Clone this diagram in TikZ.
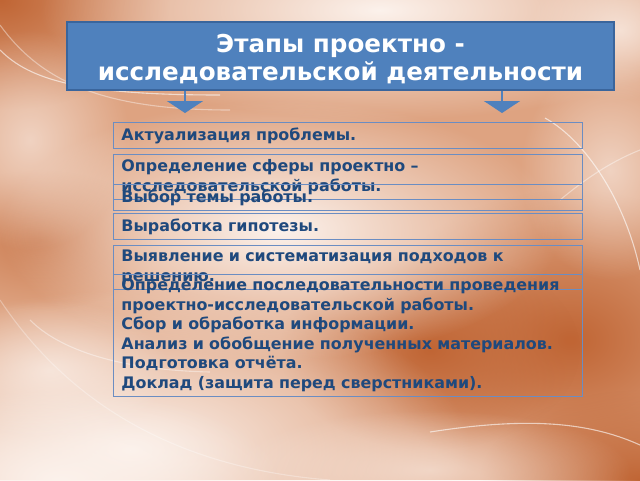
\documentclass[tikz,border=0pt]{standalone}
\usepackage{fontspec}
\setmainfont{DejaVu Sans}
\usetikzlibrary{arrows.meta,fadings}
\definecolor{accent}{HTML}{4F81BD}
\definecolor{accentdark}{HTML}{3A659C}
\definecolor{txtblue}{HTML}{1F497D}
\definecolor{boxline}{HTML}{6B8DC2}
\definecolor{bgmid}{HTML}{DEA381}
\definecolor{bgdark}{HTML}{C06534}
\definecolor{bglight}{HTML}{FCF2EC}
\tikzfading[name=softblob, inner color=transparent!0, outer color=transparent!100]
\tikzset{
  lightblob/.style={fill=bglight, path fading=softblob},
  darkblob/.style={fill=bgdark, path fading=softblob},
  swirl/.style={draw=white, line width=1.1pt, opacity=0.6},
  titlebox/.style={fill=accent, draw=accentdark, line width=1.2pt,
    minimum width=547pt, minimum height=68pt, inner sep=0pt},
  titletext/.style={text=white, font=\bfseries\fontsize{24.6}{28}\selectfont,
    align=center, inner sep=0pt},
  stepbox/.style={draw=boxline, line width=0.9pt, text=txtblue,
    font=\bfseries\fontsize{15.9}{19.5}\selectfont, text width=453pt,
    inner xsep=8pt, inner ysep=2pt, align=left, anchor=north west},
  downarrow/.style={draw=accent, line width=1.8pt,
    -{Triangle[width=36pt,length=12pt,fill=accent]}}
}
\begin{document}
\begin{tikzpicture}[x=1pt,y=-1pt]
\useasboundingbox (0,0) rectangle (640,480);
% background
\fill[bgmid] (0,0) rectangle (640,480);
\begin{scope}
\clip (0,0) rectangle (640,480);
\fill[darkblob] (0,0) ellipse (170 and 110);
\fill[darkblob] (570,340) ellipse (200 and 150);
\fill[darkblob] (640,480) ellipse (160 and 90);
\fill[darkblob] (430,350) ellipse (150 and 100);
\fill[darkblob, opacity=0.6] (40,240) ellipse (120 and 70);
\fill[lightblob] (130,450) ellipse (340 and 160);
\fill[lightblob] (60,480) ellipse (220 and 90);
\fill[lightblob, opacity=0.7] (50,370) ellipse (120 and 70);
\fill[lightblob] (280,230) ellipse (280 and 130);
\fill[lightblob] (380,10) ellipse (340 and 110);
\fill[lightblob, opacity=0.6] (30,140) ellipse (100 and 110);
\fill[lightblob, opacity=0.6] (610,170) ellipse (90 and 110);
\fill[lightblob, opacity=0.7] (620,30) ellipse (90 and 70);
\fill[lightblob, opacity=0.6] (430,470) ellipse (200 and 60);
% swirl lines
\draw[swirl] (0,50) .. controls (30,80) and (80,95) .. (220,95);
\draw[swirl, opacity=0.4] (0,25) .. controls (40,80) and (100,110) .. (230,110);
\draw[swirl] (545,118) .. controls (585,140) and (625,200) .. (640,270);
\draw[swirl, opacity=0.4] (560,200) .. controls (590,175) and (615,160) .. (640,150);
\draw[swirl] (430,432) .. controls (520,418) and (585,420) .. (640,445);
\draw[swirl, opacity=0.4] (30,320) .. controls (60,350) and (120,370) .. (210,372);
\draw[swirl, opacity=0.3] (0,300) .. controls (80,420) and (200,470) .. (330,480);
\end{scope}
% title
\node[titlebox] (title) at (340.5,56) {};
\node[titletext] (titletxt) at ([yshift=-3pt]title.center) {Этапы проектно -\\исследовательской деятельности};
% arrows
\coordinate (la) at (185,113);
\coordinate (ra) at (502,113);
\draw[downarrow] (title.south -| la) -- (la);
\draw[downarrow] (title.south -| ra) -- (ra);
% boxes
\node[stepbox, minimum height=26pt] (b1) at (113,122) {Актуализация проблемы.};
\node[stepbox, minimum height=45pt] (b2) at (113,154) {Определение сферы проектно –\\исследовательской работы.};
\node[stepbox, minimum height=26pt] (b3) at (113,184) {Выбор темы работы.};
\node[stepbox, minimum height=26pt] (b4) at (113,213) {Выработка гипотезы.};
\node[stepbox, minimum height=44pt] (b5) at (113,245) {Выявление и систематизация подходов к\\решению.};
\node[stepbox, minimum height=122pt] (b6) at (113,274) {Определение последовательности проведения\\проектно-исследовательской работы.\\Сбор и обработка информации.\\Анализ и обобщение полученных материалов.\\Подготовка отчёта.\\Доклад (защита перед сверстниками).};
\end{tikzpicture}
\end{document}
